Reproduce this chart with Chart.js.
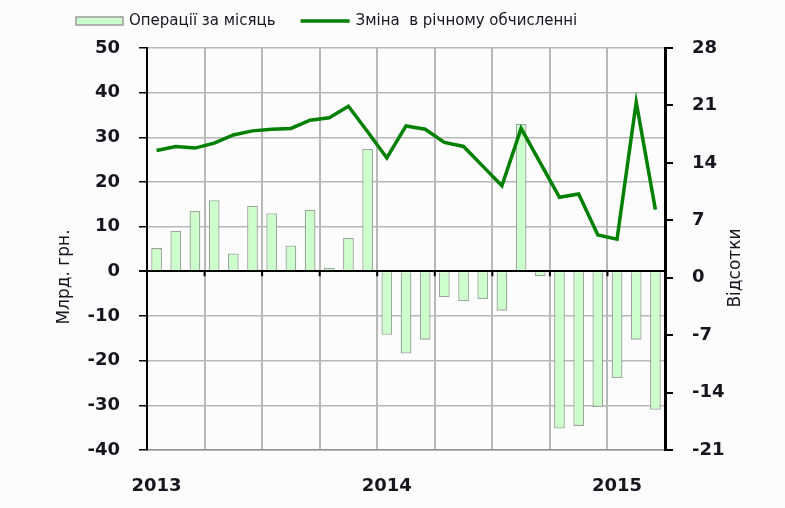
<!DOCTYPE html>
<html>
<head>
<meta charset="utf-8">
<script src="https://cdn.jsdelivr.net/npm/chart.js@4"></script>
<style>
  html, body { margin: 0; padding: 0; background: #fcfcfc; }
  #wrap { width: 785px; height: 508px; }
</style>
</head>
<body>
<div id="wrap"><canvas id="c" width="785" height="508"></canvas></div>
<script>
// ---- data ----
const months = [
  '01.2013','02.2013','03.2013','04.2013','05.2013','06.2013','07.2013','08.2013','09.2013','10.2013','11.2013','12.2013',
  '01.2014','02.2014','03.2014','04.2014','05.2014','06.2014','07.2014','08.2014','09.2014','10.2014','11.2014','12.2014',
  '01.2015','02.2015','03.2015'
];
const yearTicks = ['2013', '2014', '2015'];
const monthlyOps = [5.2, 9.1, 13.5, 15.9, 4.0, 14.7, 13.0, 5.8, 13.8, 0.8, 7.5, 27.4,
  -14.2, -18.4, -15.3, -5.8, -6.7, -6.2, -8.8, 33.0, -1.1, -35.2, -34.6, -30.4,
  -23.9, -15.3, -31.0];
const annualChange = [15.5, 16.0, 15.8, 16.4, 17.4, 17.9, 18.1, 18.2, 19.2, 19.5, 20.9, 17.8,
  14.6, 18.5, 18.1, 16.5, 16.0, 13.6, 11.2, 18.2, 14.0, 9.8, 10.2, 5.2,
  4.7, 21.4, 8.3];
const seriesNames = ['Операції за місяць', 'Зміна  в річному обчисленні'];
const leftTitle = 'Млрд. грн.';
const rightTitle = 'Відсотки';

const TXT = '#16161f';
const GRID = '#b8b8b8';
const TICKFONT = { family: 'DejaVu Sans', size: 18, weight: 'bold' };

const legendPlugin = {
  id: 'topLegend',
  afterDraw(chart) {
    const { ctx, chartArea: a } = chart;
    ctx.save();
    ctx.font = '15px "DejaVu Sans"';
    ctx.textBaseline = 'middle';
    let x = a.left - 71;
    const y = a.top - 27;
    chart.data.datasets.forEach((d, i) => {
      if (d.type === 'bar') {
        ctx.fillStyle = d.backgroundColor;
        ctx.fillRect(x, y - 4, 47, 8);
        ctx.strokeStyle = '#999999';
        ctx.lineWidth = 1.5;
        ctx.strokeRect(x, y - 4, 47, 8);
      } else {
        ctx.strokeStyle = d.borderColor;
        ctx.lineWidth = 3.5;
        ctx.beginPath(); ctx.moveTo(x, y); ctx.lineTo(x + 49, y); ctx.stroke();
      }
      const tx = x + (d.type === 'bar' ? 53 : 55);
      ctx.fillStyle = TXT;
      ctx.fillText(d.label, tx, y);
      x = tx + ctx.measureText(d.label).width + 25;
    });
    ctx.restore();
  }
};

const titlesPlugin = {
  id: 'axisTitles',
  afterDraw(chart) {
    const { ctx, chartArea: a } = chart;
    ctx.save();
    ctx.fillStyle = TXT;
    ctx.font = '17px "DejaVu Sans"';
    ctx.textAlign = 'center';
    ctx.textBaseline = 'middle';
    ctx.translate(a.left - 82, a.top + 229);
    ctx.rotate(-Math.PI / 2);
    ctx.fillText(leftTitle, 0, 0);
    ctx.restore();
    ctx.save();
    ctx.fillStyle = TXT;
    ctx.font = '17px "DejaVu Sans"';
    ctx.textAlign = 'center';
    ctx.textBaseline = 'middle';
    ctx.translate(a.right + 71, a.top + 220);
    ctx.rotate(-Math.PI / 2);
    ctx.fillText(rightTitle, 0, 0);
    ctx.restore();
  }
};

const zeroTicksPlugin = {
  id: 'zeroTicks',
  afterDatasetsDraw(chart) {
    const { ctx } = chart;
    const xs = chart.scales.x, ys = chart.scales.y;
    const y0 = ys.getPixelForValue(0);
    ctx.save();
    ctx.strokeStyle = '#000';
    ctx.lineWidth = 2;
    ctx.beginPath();
    for (let i = 3; i < months.length; i += 3) {
      const x = (xs.getPixelForValue(i - 1) + xs.getPixelForValue(i)) / 2;
      ctx.moveTo(x, y0);
      ctx.lineTo(x, y0 + 5);
    }
    ctx.stroke();
    ctx.restore();
  }
};

new Chart(document.getElementById('c'), {
  data: {
    labels: months,
    datasets: [
      {
        type: 'bar',
        label: seriesNames[0],
        data: monthlyOps,
        yAxisID: 'y',
        backgroundColor: '#ccffcc',
        borderColor: '#9aa89a',
        borderWidth: 1.3,
        barPercentage: 0.56,
        categoryPercentage: 1,
        order: 1
      },
      {
        type: 'line',
        label: seriesNames[1],
        data: annualChange,
        yAxisID: 'y1',
        borderColor: '#008000',
        backgroundColor: '#008000',
        borderWidth: 3.5,
        pointRadius: 0,
        tension: 0,
        order: 0
      }
    ]
  },
  options: {
    responsive: false,
    animation: false,
    devicePixelRatio: 1,
    layout: { padding: { top: 48, left: 0, right: 0, bottom: 0 } },
    plugins: {
      legend: { display: false },
      tooltip: { enabled: false }
    },
    scales: {
      x: {
        offset: true,
        afterFit: s => { s.height = 58; },
        grid: {
          offset: true,
          drawTicks: false,
          color: c => (c.index % 3 === 0 ? GRID : 'rgba(0,0,0,0)'),
          lineWidth: 2
        },
        border: { color: '#909090', width: 1.5 },
        ticks: {
          autoSkip: false,
          maxRotation: 0,
          padding: 26,
          color: TXT,
          font: TICKFONT,
          callback: (v, i) => (i % 12 === 0 ? yearTicks[i / 12] : '')
        }
      },
      y: {
        position: 'left',
        min: -40, max: 50,
        afterFit: s => { s.width = 147; },
        grid: {
          color: c => (c.tick && c.tick.value === 0 ? '#000000' : GRID),
          lineWidth: c => (c.tick && c.tick.value === 0 ? 2 : 1.5),
          tickColor: '#000000',
          tickLength: 8
        },
        border: { color: '#000000', width: 2 },
        ticks: { stepSize: 10, padding: 19, color: TXT, font: TICKFONT }
      },
      y1: {
        position: 'right',
        min: -21, max: 28,
        afterFit: s => { s.width = 120; },
        grid: { drawOnChartArea: false, tickColor: '#000000', tickLength: 8, lineWidth: 2 },
        border: { color: '#000000', width: 3 },
        ticks: { stepSize: 7, padding: 19, color: TXT, font: TICKFONT }
      }
    }
  },
  plugins: [legendPlugin, titlesPlugin, zeroTicksPlugin]
});
</script>
</body>
</html>
